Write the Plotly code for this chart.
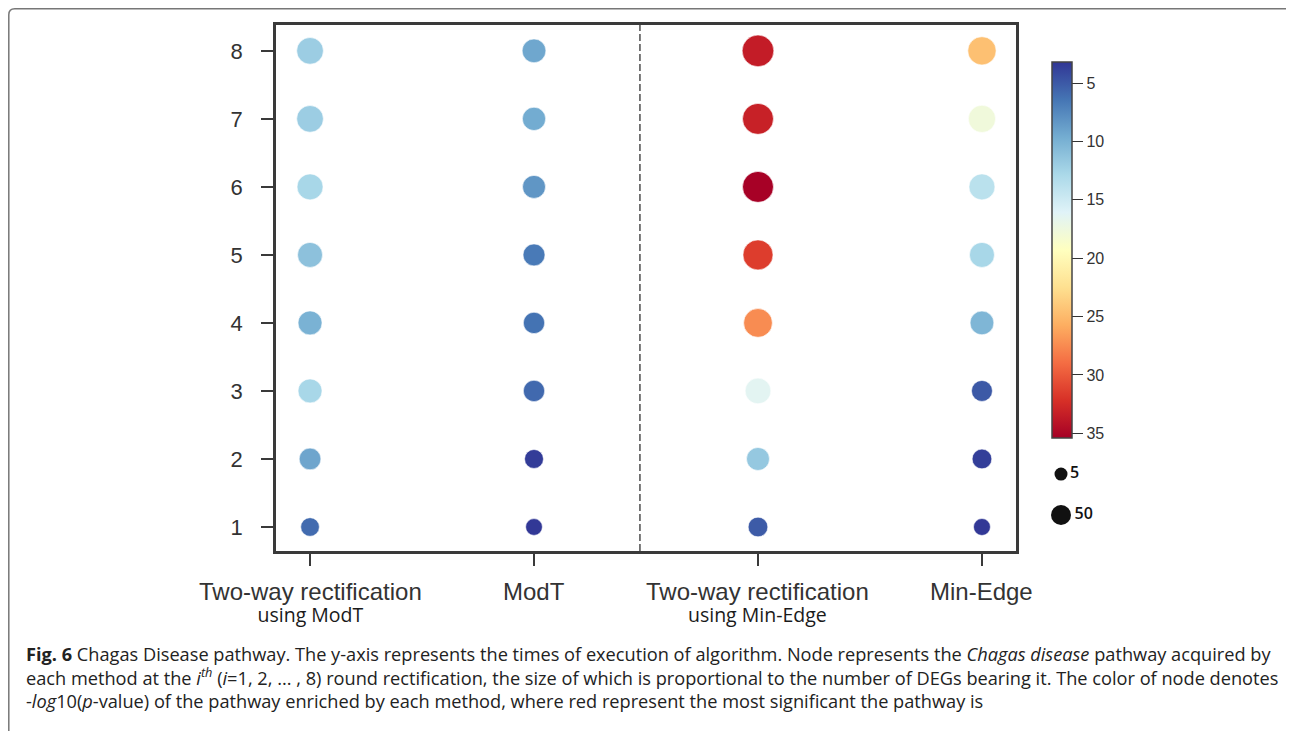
import numpy as np
import plotly.graph_objects as go

# ---------------- data ----------------
methods = ["Two-way rectification", "ModT", "Two-way rectification", "Min-Edge"]
method_sublabels = ["using ModT", "", "using Min-Edge", ""]
rounds = [1, 2, 3, 4, 5, 6, 7, 8]

# -log10(p-value) per round (1..8)
logp_tw_modt = [5.9, 9.2, 12.7, 10.0, 11.1, 12.7, 12.0, 12.0]
logp_modt = [3.3, 3.5, 5.8, 6.3, 6.7, 8.3, 9.6, 9.3]
logp_tw_minedge = [5.1, 11.6, 16.4, 27.4, 31.5, 35.3, 33.2, 33.5]
logp_minedge = [3.3, 3.6, 5.0, 10.3, 12.7, 13.8, 17.7, 24.6]

# number of DEGs per round (1..8)
deg_tw_modt = [40, 64, 84, 84, 94, 104, 111, 111]
deg_modt = [27, 42, 61, 61, 66, 75, 78, 82]
deg_tw_minedge = [48, 75, 101, 133, 148, 159, 159, 168]
deg_minedge = [28, 48, 58, 82, 94, 104, 117, 128]

legend_sizes = [5, 50]
cbar_ticks = [5, 10, 15, 20, 25, 30, 35]

# ---------------- helpers ----------------
W, H = 1294, 731
OFF = 8  # page offset of the figure inside the window
L, R, T, B = 276, 1016, 25, 551  # plot area in window pixels


def fx(p):
    return (p - OFF) / W


def fy(p):
    return (H - (p - OFF)) / H


def diam(n):
    return float(np.sqrt(143 + 5.13 * np.asarray(n, dtype=float)))


CMIN, CMAX = 3.2, 35.4

all_logp = [logp_tw_modt, logp_modt, logp_tw_minedge, logp_minedge]
all_deg = [deg_tw_modt, deg_modt, deg_tw_minedge, deg_minedge]

xs, ys, cs, ss = [], [], [], []
for i, (lp, dg) in enumerate(zip(all_logp, all_deg)):
    for r, v, n in zip(rounds, lp, dg):
        xs.append(i)
        ys.append(r)
        cs.append(-v)
        ss.append(diam(n))

fig = go.Figure()
fig.add_trace(go.Scatter(
    x=xs, y=ys, mode="markers",
    marker=dict(
        size=ss, sizemode="diameter", color=cs, colorscale="RdYlBu",
        cmin=-CMAX, cmax=-CMIN, opacity=1,
        line=dict(width=0.6, color="white"),
        colorbar=dict(
            x=fx(1052), xanchor="left", xref="paper", xpad=0, ypad=0,
            y=fy(250), yanchor="middle",
            thickness=20, len=376, lenmode="pixels",
            outlinewidth=1.5, outlinecolor="#444444",
            tickvals=[-t for t in cbar_ticks],
            ticktext=[str(t) for t in cbar_ticks],
            ticks="outside", ticklen=11, tickwidth=1.3, tickcolor="#333333",
            tickfont=dict(family="Liberation Sans, Arial", size=16, color="#333333"),
        ),
    ),
    hoverinfo="skip", showlegend=False,
))

# size legend
fig.add_trace(go.Scatter(
    x=[0.3, 0.3], y=[0.776, 0.294], mode="markers+text",
    marker=dict(size=[diam(s) for s in legend_sizes], color="#111111", opacity=1,
                line=dict(width=0)),
    text=[str(s) for s in legend_sizes], textposition="middle right",
    textfont=dict(family="Open Sans, Arial", size=16, color="#111111", weight=600),
    xaxis="x2", yaxis="y2", hoverinfo="skip", showlegend=False,
))

axis_col = "#3a3a3a"
fig.update_layout(
    width=W, height=H,
    margin=dict(l=0, r=0, t=0, b=0),
    paper_bgcolor="white", plot_bgcolor="white",
    xaxis=dict(
        domain=[fx(L), fx(R)], anchor="y",
        range=[-0.152, 3.152], tickvals=[0, 1, 2, 3], showticklabels=False,
        showline=True, mirror=True, linewidth=2.5, linecolor=axis_col,
        ticks="outside", ticklen=12, tickwidth=2, tickcolor=axis_col,
        showgrid=False, zeroline=False, automargin=False,
    ),
    yaxis=dict(
        domain=[fy(B), fy(T)], anchor="x",
        range=[0.647, 8.38], tickvals=rounds,
        showline=True, mirror=True, linewidth=2.5, linecolor=axis_col,
        ticks="outside", ticklen=12, tickwidth=2, tickcolor=axis_col,
        showgrid=False, zeroline=False, ticklabelstandoff=14, automargin=False,
        tickfont=dict(family="Liberation Sans, Arial", size=22, color="#333333"),
    ),
    xaxis2=dict(domain=[fx(1040), fx(1110)], range=[0, 1], visible=False,
                anchor="y2", fixedrange=True),
    yaxis2=dict(domain=[fy(540), fy(455)], range=[0, 1], visible=False,
                anchor="x2", fixedrange=True),
)

# category labels (two-line ones drawn as one text)
for i, (main, sub) in enumerate(zip(methods, method_sublabels)):
    if sub:
        txt = ("<span style='font-family:Liberation Sans, Arial;font-size:24px;color:#333333'>"
               + main + "</span><br><span style='font-size:19.5px'>" + sub + "</span>")
        fig.add_annotation(text=txt, xref="x", yref="paper", x=i, y=fy(603),
                           xanchor="center", yanchor="middle", showarrow=False, align="center",
                           font=dict(family="Open Sans", size=16.7, color="#1a1a1a"))
    else:
        fig.add_annotation(text=main, xref="x", yref="paper", x=i, y=fy(591),
                           xanchor="center", yanchor="middle", showarrow=False,
                           font=dict(family="Liberation Sans, Arial", size=24, color="#333333"))

# dashed separator
fig.add_shape(type="line", xref="x", yref="y domain", x0=1.473, x1=1.473, y0=0, y1=1,
              line=dict(color="#333333", width=1.3, dash="7px,3px"))

# outer rounded border
x0, y0, x1, y1, rr = OFF + 0.8, OFF + 0.8, 1292, 760, 6
path = (f"M {fx(x0)},{fy(y0 + rr)} "
        f"Q {fx(x0)},{fy(y0)} {fx(x0 + rr)},{fy(y0)} "
        f"L {fx(x1 - rr)},{fy(y0)} "
        f"Q {fx(x1)},{fy(y0)} {fx(x1)},{fy(y0 + rr)} "
        f"L {fx(x1)},{fy(y1)} L {fx(x0)},{fy(y1)} Z")
fig.add_shape(type="path", xref="paper", yref="paper", path=path,
              line=dict(color="#777777", width=1.5), fillcolor="rgba(0,0,0,0)", layer="below")

# caption (one text block)
caption = [
    "<b>Fig. 6</b> Chagas Disease pathway. The y-axis represents the times of execution of algorithm. Node represents the <i>Chagas disease</i> pathway acquired by",
    "each method at the <i>i</i><sup><i>th</i></sup> (<i>i</i>=1, 2, ... , 8) round rectification, the size of which is proportional to the number of DEGs bearing it. The color of node denotes",
    "-<i>log</i>10(<i>p</i>-value) of the pathway enriched by each method, where red represent the most significant the pathway is",
]
fig.add_annotation(text="<br>".join(caption), xref="paper", yref="paper",
                   x=fx(24), y=fy(677), xanchor="left", yanchor="middle", align="left",
                   showarrow=False, font=dict(family="Open Sans", size=18.2, color="#222222"))

fig.write_html("out.html")
